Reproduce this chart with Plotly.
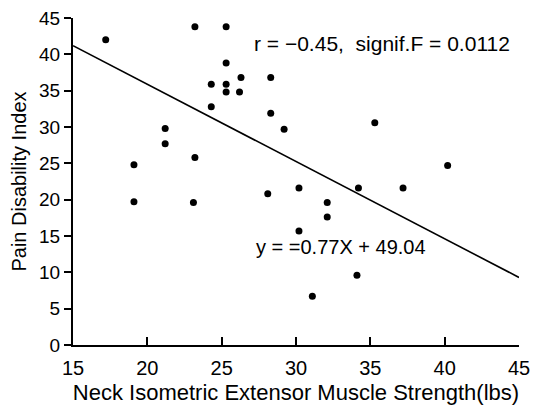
import plotly.graph_objects as go

strength = [17.2, 23.2, 25.3, 25.3, 24.3, 25.3, 25.3, 26.3, 26.2, 28.3, 28.3, 24.3,
            21.2, 21.2, 23.2, 19.1, 28.1, 19.1, 23.1, 29.2, 35.3, 40.2, 34.2, 37.2,
            30.2, 32.1, 32.1, 30.2, 34.1, 31.1]
pdi = [42.0, 43.8, 43.8, 38.8, 35.9, 35.9, 34.8, 36.8, 34.8, 36.8, 31.9, 32.8,
       29.8, 27.7, 25.8, 24.8, 20.8, 19.7, 19.6, 29.7, 30.6, 24.7, 21.6, 21.6,
       21.6, 19.6, 17.6, 15.7, 9.6, 6.7]
line_x = [15, 45]
line_y = [41.2, 9.3]
x_ticks = [15, 20, 25, 30, 35, 40, 45]
y_ticks = [0, 5, 10, 15, 20, 25, 30, 35, 40, 45]

FONT = "Liberation Sans, Arial, sans-serif"

fig = go.Figure()
fig.add_trace(go.Scatter(x=line_x, y=line_y, mode="lines",
                         line=dict(color="black", width=1.6), showlegend=False))
fig.add_trace(go.Scatter(x=strength, y=pdi, mode="markers",
                         marker=dict(color="black", size=7), showlegend=False))

fig.add_annotation(x=35.8, y=41.5, xref="x", yref="y", showarrow=False,
                   text="r = −0.45,  signif.F = 0.0112",
                   font=dict(family=FONT, size=21, color="black"))
fig.add_annotation(x=33.0, y=13.5, xref="x", yref="y", showarrow=False,
                   text="y = =0.77X + 49.04",
                   font=dict(family=FONT, size=20, color="black"))

# page body adds an 8px offset, so the figure is sized/placed to compensate
fig.update_layout(
    width=535, height=397,
    margin=dict(l=65, r=24, t=10, b=60),
    plot_bgcolor="white", paper_bgcolor="white",
    font=dict(family=FONT, color="black"),
)
fig.update_xaxes(range=[15, 45], tickvals=x_ticks, ticks="inside", ticklen=8,
                 tickwidth=2, tickcolor="black", showline=True, linecolor="black",
                 linewidth=2, showgrid=False, zeroline=False, automargin=False,
                 tickfont=dict(size=20, family=FONT), ticklabelstandoff=4,
                 ticklabeloverflow="allow",
                 title=dict(text="Neck Isometric Extensor Muscle Strength(lbs)",
                            font=dict(size=22, family=FONT), standoff=10))
fig.update_yaxes(range=[0, 45], tickvals=y_ticks, ticks="outside", ticklen=7,
                 tickwidth=2, tickcolor="black", showline=True, linecolor="black",
                 linewidth=2, showgrid=False, zeroline=False, automargin=False,
                 tickfont=dict(size=19, family=FONT), ticklabeloverflow="allow",
                 title=dict(text="Pain Disability Index",
                            font=dict(size=20, family=FONT), standoff=7))

fig.write_html("out.html")
